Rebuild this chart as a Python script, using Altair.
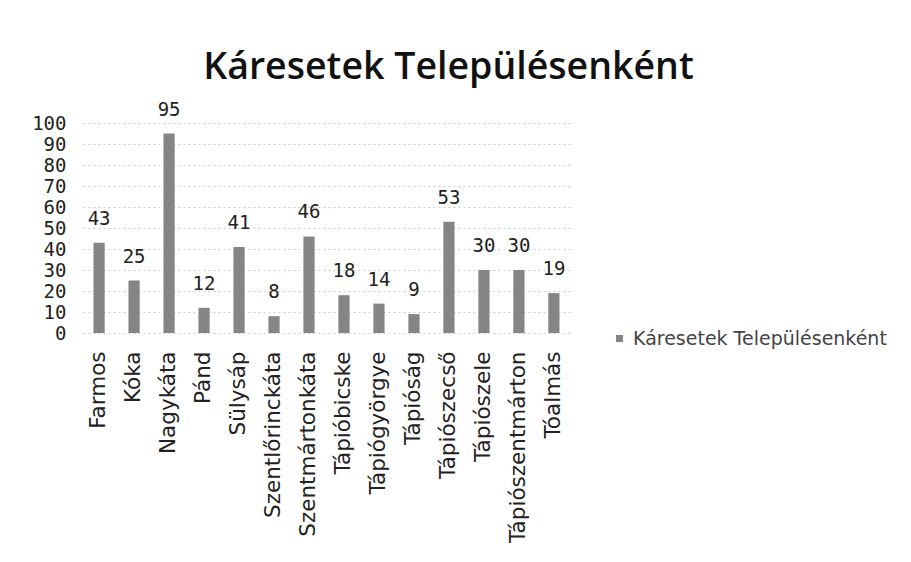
import altair as alt
import pandas as pd

towns = ["Farmos", "Kóka", "Nagykáta", "Pánd", "Sülysáp", "Szentlőrinckáta",
         "Szentmártonkáta", "Tápióbicske", "Tápiógyörgye", "Tápióság",
         "Tápiószecső", "Tápiószele", "Tápiószentmárton", "Tóalmás"]
cases = [43, 25, 95, 12, 41, 8, 46, 18, 14, 9, 53, 30, 30, 19]
series_name = "Káresetek Településenként"
y_ticks = [0, 10, 20, 30, 40, 50, 60, 70, 80, 90, 100]

df = pd.DataFrame({"town": towns, "cases": cases, "series": [series_name] * len(towns)})

x = alt.X("town:N", sort=towns, title=None,
          scale=alt.Scale(paddingInner=0.68, paddingOuter=0.3),
          axis=alt.Axis(labelAngle=-90, labelFont="DejaVu Sans", labelFontSize=21.5,
                        labelColor="#222", ticks=False, domain=False, labelPadding=18,
                        grid=False, labelLimit=300, labelOverlap=False))
y = alt.Y("cases:Q", title=None,
          scale=alt.Scale(domain=[0, 100], nice=False),
          axis=alt.Axis(values=y_ticks, tickCount=11, labelFont="DejaVu Sans Mono",
                        labelFontSize=19, labelColor="#222", ticks=False, domain=False,
                        labelPadding=17, labelOverlap=False, labelBound=False,
                        labelFlush=False, gridColor="#999", gridDash=[2, 3], gridOpacity=0.5))

base = alt.Chart(df).encode(x=x, y=y)

bars = base.mark_bar(color="#858585").encode(
    color=alt.Color("series:N", scale=alt.Scale(range=["#858585"]),
                    legend=alt.Legend(title=None, orient="none", legendX=527, legendY=206,
                                      symbolType="square", symbolSize=50,
                                      labelFont="DejaVu Sans", labelFontSize=19,
                                      labelColor="#444", labelLimit=400))
)
labels = base.mark_text(font="DejaVu Sans Mono", fontSize=19, color="#222",
                        baseline="alphabetic", dy=-18).encode(text="cases:Q")

chart = (bars + labels).properties(
    width=487, height=210,
    autosize=alt.AutoSizeParams(type="none"),
    padding={"left": 75, "top": 115, "right": 333, "bottom": 215},
    background="white",
    title=alt.TitleParams(series_name, font="Open Sans", fontSize=37.5, fontWeight=600,
                          color="#111", anchor="middle", dx=122, offset=14),
).configure_view(stroke=None)

chart.save("out.html", embed_options={"renderer": "svg", "actions": False})
